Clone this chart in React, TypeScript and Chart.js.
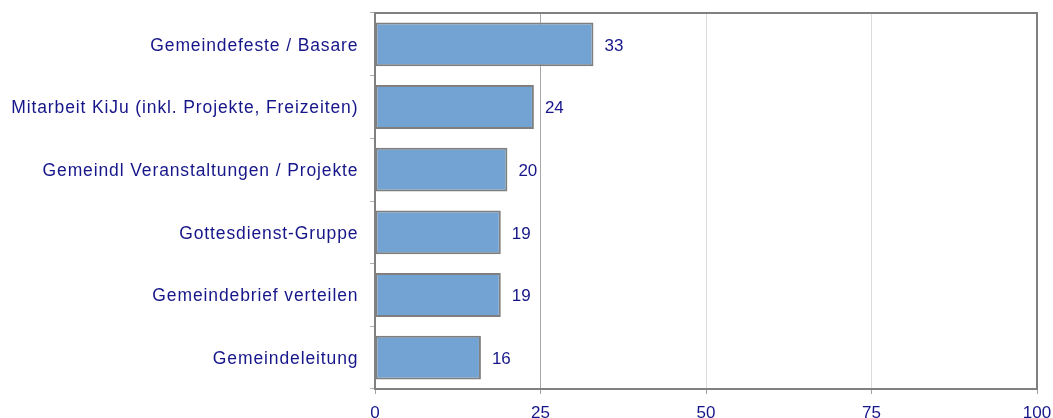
import React, { useEffect, useRef } from "react";
import { Chart, registerables } from "chart.js";

Chart.register(...registerables);

const categories = [
  "Gemeindefeste / Basare",
  "Mitarbeit KiJu (inkl. Projekte, Freizeiten)",
  "Gemeindl Veranstaltungen / Projekte",
  "Gottesdienst-Gruppe",
  "Gemeindebrief verteilen",
  "Gemeindeleitung",
];
const values = [33, 24, 20, 19, 19, 16];
const xTicks = [0, 25, 50, 75, 100];

const TEXT = "#16168a";
const FONT = "'Liberation Sans', Arial, sans-serif";

const valueLabels = {
  id: "valueLabels",
  afterDatasetsDraw(chart: any) {
    const ctx = chart.ctx;
    const meta = chart.getDatasetMeta(0);
    ctx.save();
    ctx.fillStyle = TEXT;
    ctx.font = `17px ${FONT}`;
    ctx.textAlign = "left";
    ctx.textBaseline = "middle";
    meta.data.forEach((el: any, i: number) => {
      ctx.fillText(String(values[i]), el.x + 11, el.y + 1.5);
    });
    ctx.restore();
  },
};

const SPACING = 0.88;
const yLabels = {
  id: "yLabels",
  afterDraw(chart: any) {
    const ctx: any = chart.ctx;
    const y = chart.scales.y;
    ctx.save();
    ctx.fillStyle = TEXT;
    ctx.font = `17.5px ${FONT}`;
    ctx.textBaseline = "middle";
    const hasLS = "letterSpacing" in ctx;
    if (hasLS) ctx.letterSpacing = SPACING + "px";
    categories.forEach((lab, i) => {
      const w = ctx.measureText(lab).width;
      const total = hasLS ? w - SPACING : w;
      ctx.textAlign = "left";
      const yy = y.getPixelForValue(i) + 1.5;
      if (hasLS) {
        ctx.fillText(lab, 357.5 - total, yy);
      } else {
        ctx.save();
        ctx.translate(357.5, yy);
        ctx.scale(1.125, 1);
        ctx.textAlign = "right";
        ctx.fillText(lab, 0, 0);
        ctx.restore();
      }
    });
    ctx.restore();
  },
};

const frame = {
  id: "frame",
  afterDraw(chart: any) {
    const { ctx, chartArea } = chart;
    ctx.save();
    ctx.strokeStyle = "#808080";
    ctx.lineWidth = 2;
    ctx.beginPath();
    ctx.moveTo(chartArea.left, chartArea.top);
    ctx.lineTo(chartArea.right, chartArea.top);
    ctx.lineTo(chartArea.right, chartArea.bottom);
    ctx.stroke();
    ctx.restore();
  },
};

export default function App() {
  const ref = useRef<HTMLCanvasElement>(null);
  useEffect(() => {
    document.body.style.margin = "0";
    const chart = new Chart(ref.current!, {
      type: "bar",
      data: {
        labels: categories,
        datasets: [
          {
            data: values,
            backgroundColor: "#72a3d2",
            borderColor: "#7f7f7f",
            borderWidth: 2,
            borderSkipped: false,
            barPercentage: 0.7,
            categoryPercentage: 1,
          },
        ],
      },
      options: {
        indexAxis: "y",
        animation: false,
        responsive: false,
        maintainAspectRatio: false,
        layout: { padding: { top: 13, right: 16, left: 0, bottom: 0 } },
        plugins: { legend: { display: false }, tooltip: { enabled: false } },
        scales: {
          x: {
            min: 0,
            max: 100,
            afterBuildTicks(scale: any) {
              scale.ticks = xTicks.map((v) => ({ value: v }));
            },
            afterFit(scale: any) {
              scale.height = 29;
              scale.paddingLeft = 0;
              scale.paddingRight = 0;
            },
            border: { color: "#808080", width: 2 },
            grid: {
              color: (c: any) =>
                c.tick && c.tick.value === 25
                  ? "#a8a8a8"
                  : c.tick && c.tick.value === 0
                  ? "#808080"
                  : "#dcdcdc",
              tickColor: "#a0a0a0",
              tickLength: 5,
              lineWidth: 1,
            },
            ticks: {
              color: TEXT,
              font: { family: FONT, size: 17 },
              padding: 9,
              maxRotation: 0,
            },
          },
          y: {
            afterFit(scale: any) {
              scale.width = 375;
            },
            border: { color: "#808080", width: 2 },
            grid: {
              offset: true,
              drawOnChartArea: false,
              tickColor: "#b0b0b0",
              tickLength: 5,
            },
            ticks: { display: false },
          },
        },
      },
      plugins: [valueLabels, yLabels, frame],
    });
    return () => chart.destroy();
  }, []);
  return (
    <div style={{ width: 1053, height: 418 }}>
      <canvas ref={ref} width={1053} height={418} style={{ display: "block" }} />
    </div>
  );
}
